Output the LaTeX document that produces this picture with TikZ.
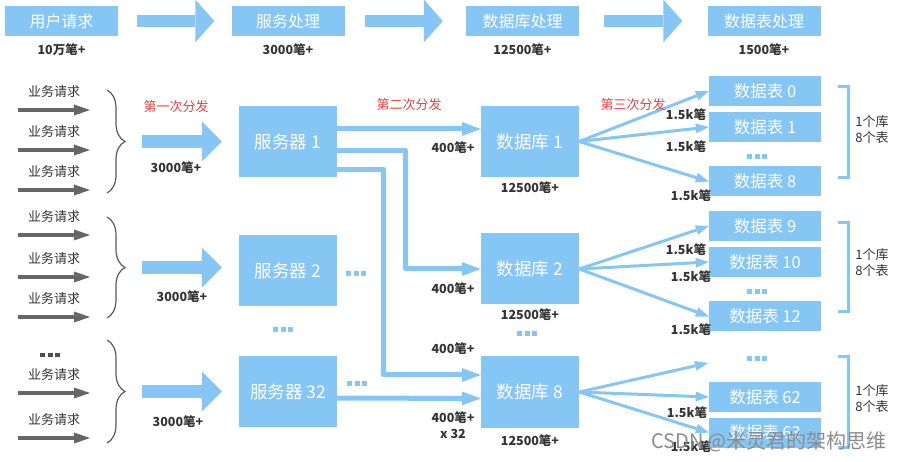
\documentclass[tikz,border=0pt]{standalone}
\usepackage{fontspec}
\setmainfont{Noto Sans CJK SC}
\usepackage{tikz}
\usetikzlibrary{arrows.meta, positioning, decorations.pathreplacing}
\definecolor{skyb}{RGB}{133,198,245}
\definecolor{ink}{RGB}{51,51,51}
\definecolor{redtxt}{RGB}{232,64,64}
\tikzstyle{blk}=[fill=skyb, text=white, inner sep=0pt, font=\fontsize{15}{15}\selectfont]
\tikzstyle{hdr}=[blk, minimum width=113pt, minimum height=30pt, font=\fontsize{16}{16}\selectfont]
\tikzstyle{srv}=[blk, minimum width=98pt, minimum height=71pt, font=\fontsize{17.5}{17.5}\selectfont]
\tikzstyle{tbl}=[blk, minimum width=112pt, minimum height=30pt, font=\fontsize{16.5}{16.5}\selectfont]
\tikzstyle{num}=[text=ink, inner sep=0pt, font=\bfseries\fontsize{12.5}{14}\selectfont]
\tikzstyle{req}=[text=ink, inner sep=0pt, font=\fontsize{13}{13}\selectfont]
\tikzstyle{hint}=[text=redtxt, inner sep=0pt, font=\fontsize{13}{13}\selectfont]
\tikzstyle{fat} = [draw=skyb, line width=12pt, -{Triangle[length=19pt,width=43pt,line width=0pt]}]
\tikzstyle{bigarr} = [draw=skyb, line width=13pt, -{Triangle[length=20pt,width=40pt,line width=0pt]}]
\tikzstyle{midarr} = [draw=skyb, line width=5pt, -{Triangle[length=19pt,width=14pt,line width=0pt]}]
\tikzstyle{fan} = [draw=skyb, line width=3pt, -{Triangle[length=13pt,width=10pt,line width=0pt]}]
\tikzstyle{reqarr} = [draw=black!60, line width=4pt, -{Triangle[length=16pt,width=11pt,line width=0pt]}]
\tikzstyle{brc}=[draw=black!65, line width=1.2pt, decorate, decoration={brace, amplitude=18pt}]
\tikzstyle{bkt}=[draw=skyb, line width=3pt]
\newcommand{\sqdots}[1]{{\color{#1}\rule{5pt}{5pt}\hspace{2.5pt}\rule{5pt}{5pt}\hspace{2.5pt}\rule{5pt}{5pt}}}

\begin{document}
\begin{tikzpicture}[x=1pt, y=-1pt]
    \useasboundingbox (0,0) rectangle (900,462);

    \node [hdr] (u) at (61.5,21) {用户请求};
    \node [hdr] (s) at (288,21) {服务处理};
    \node [hdr] (d) at (522.5,21) {数据库处理};
    \node [hdr] (t) at (764,21) {数据表处理};
    \node [num, below=7pt of u] (un) {10万笔+};
    \node [num, below=7pt of s] (sn) {3000笔+};
    \node [num, below=7pt of d] (dn) {12500笔+};
    \node [num, below=7pt of t] (tn) {1500笔+};
    \draw[fat] ([xshift=19pt]u.east) -- ([xshift=-17pt]s.west);
    \draw[fat] ([xshift=20pt]s.east) -- ([xshift=-23pt]d.west);
    \draw[fat] ([xshift=25pt]d.east) -- ([xshift=-25pt]t.west);

    \foreach \y [count=\i] in {110,150,190,235,277,317,393,438} {
        \coordinate (q\i) at (18,\y);
        \draw[reqarr] (q\i) -- ++(72,0) node[req, midway, above=10pt] (ql\i) {业务请求};
    }
    \node (qdots) at (50,355) {\sqdots{black!70}};

    \draw[brc] (107,90) -- (107,193) coordinate[midway] (bm1);
    \draw[brc] (107,217) -- (107,318) coordinate[midway] (bm2);
    \draw[brc] (107,340) -- (107,443) coordinate[midway] (bm3);

    \node [srv] (srv1) at (288,141.5) {服务器 1};
    \node [srv] (srv2) at (288,271) {服务器 2};
    \node [srv] (srv32) at (288,391.5) {服务器 32};
    \node (sd1) at (283,330) {\sqdots{skyb}};
    \node (sd2) at (356,274) {\sqdots{skyb}};
    \node (sd3) at (357,383) {\sqdots{skyb}};

    \draw[bigarr] ([xshift=35pt]bm1) -- ([xshift=-17pt]bm1 -| srv1.west);
    \draw[bigarr] ([xshift=35pt]bm2) -- ([xshift=-17pt]bm2 -| srv2.west);
    \draw[bigarr] ([xshift=35pt]bm3) -- ([xshift=-17pt]bm3 -| srv32.west);
    \node [hint] (h1) at (176,107) {第一次分发};
    \node [num] (n1) at (176,168) {3000笔+};
    \node [num] (n2) at (182,297) {3000笔+};
    \node [num] (n3) at (178,422) {3000笔+};

    \node [srv] (db1) at (530,141.5) {数据库 1};
    \node [srv] (db2) at (530,269) {数据库 2};
    \node [srv] (db8) at (530,392) {数据库 8};
    \node [num, below=4pt of db1] (dbn1) {12500笔+};
    \node [num, below=4pt of db2] (dbn2) {12500笔+};
    \node [num, below=7pt of db8] (dbn8) {12500笔+};
    \node (dd) at (527,334) {\sqdots{skyb}};

    \draw[midarr] ([yshift=12.5pt]srv1.east) -- ([yshift=12.5pt]db1.west);
    \draw[midarr, line join=round] ([yshift=-9.5pt]srv1.east) -| ([xshift=-75pt]db2.west) -- (db2.west);
    \draw[midarr, line join=round] ([yshift=-28.5pt]srv1.east) -| ([xshift=-97pt,yshift=17pt]db8.west) -- ([yshift=17pt]db8.west);
    \draw[midarr] ([yshift=-6.5pt]srv32.east) -- ([yshift=-6.5pt]db8.west);
    \node [hint] (h2) at (409,105) {第二次分发};
    \node [num] (m1) at (453,148) {400笔+};
    \node [num] (m2) at (453,289) {400笔+};
    \node [num] (m3) at (453,349) {400笔+};
    \node [num] (m4) at (453,418) {400笔+};
    \node [num] (m5) at (453,434) {x 32};

    \node [tbl] (tb0) at (765,91) {数据表 0};
    \node [tbl] (tb1) at (765,127) {数据表 1};
    \node [tbl] (tb8) at (765,181.5) {数据表 8};
    \node [tbl] (tb9) at (765,226) {数据表 9};
    \node [tbl] (tb10) at (765,262) {数据表 10};
    \node [tbl] (tb12) at (765,316.5) {数据表 12};
    \node [tbl] (tb62) at (765,397) {数据表 62};
    \node [tbl] (tb63) at (765,432.5) {数据表 63};
    \node (td1) at (757,157) {\sqdots{skyb}};
    \node (td2) at (757,292) {\sqdots{skyb}};
    \node (td3) at (757,359) {\sqdots{skyb}};
    \coordinate (tdin) at (708,363);

    \foreach \t in {tb0,tb1,tb8} \draw[fan] (db1.east) -- (\t.west);
    \foreach \t in {tb9,tb10,tb12} \draw[fan] (db2.east) -- (\t.west);
    \draw[fan] (db8.east) -- (tdin);
    \foreach \t in {tb62,tb63} \draw[fan] (db8.east) -- (\t.west);
    \node [hint] (h3) at (633,105) {第三次分发};
    \node [num] (k1) at (686,115) {1.5k笔};
    \node [num] (k2) at (686,147) {1.5k笔};
    \node [num] (k3) at (691,196) {1.5k笔};
    \node [num] (k4) at (686,250) {1.5k笔};
    \node [num] (k5) at (691,277) {1.5k笔};
    \node [num] (k6) at (691,330) {1.5k笔};
    \node [num] (k7) at (687,413) {1.5k笔};
    \node [num] (k8) at (691,447) {1.5k笔};

    \draw[bkt] (838,87) -- (848,87) -- (848,178) -- (838,178);
    \draw[bkt] (838,223) -- (848,223) -- (848,312) -- (838,312);
    \draw[bkt] (838,357) -- (848,357) -- (848,447) -- (838,447);
    \node [req, align=left, font=\fontsize{13}{16}\selectfont] (g1) at (872,130) {1个库\\8个表};
    \node [req, align=left, font=\fontsize{13}{16}\selectfont] (g2) at (872,263) {1个库\\8个表};
    \node [req, align=left, font=\fontsize{13}{16}\selectfont] (g3) at (872,399) {1个库\\8个表};

    \node [text=black!45, font=\fontsize{20}{20}\selectfont] (wm) at (769,442) {CSDN @米灵君的架构思维};
\end{tikzpicture}
\end{document}
